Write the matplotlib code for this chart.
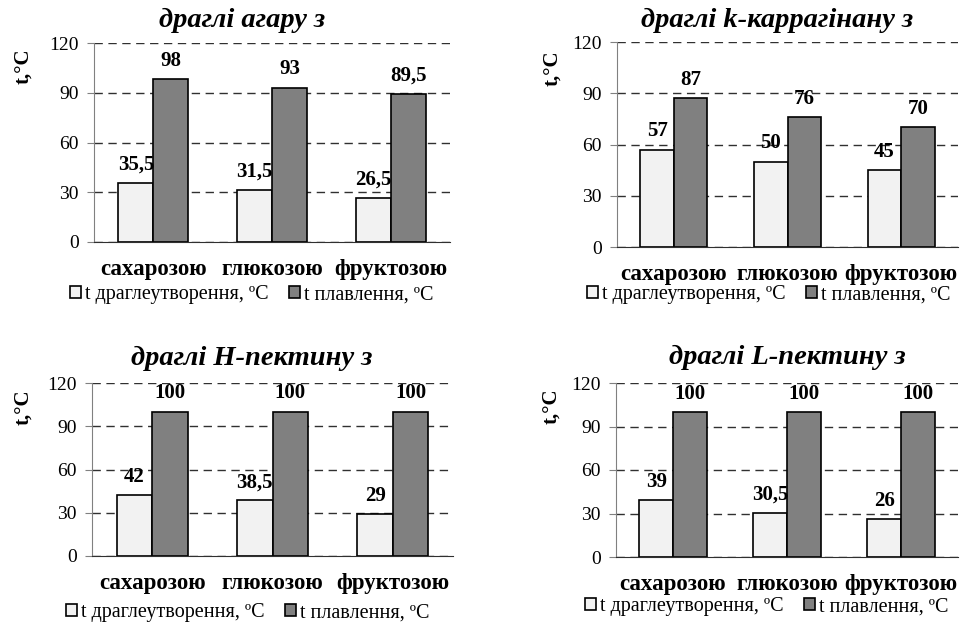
# gel formation / melting temperatures, four panels
import numpy as np
import matplotlib
matplotlib.use("Agg")
import matplotlib.pyplot as plt

plt.rcParams['font.family'] = ['Liberation Serif', 'DejaVu Serif']

W, H = 960, 626

sugars = ['сахарозою', 'глюкозою', 'фруктозою']
series_names = ['t драглеутворення, ºC', 't плавлення, ºC']

titles = ['драглі агару з', 'драглі k-каррагінану з',
          'драглі H-пектину з', 'драглі L-пектину з']

agar_gel = [35.5, 31.5, 26.5]
agar_melt = [98, 93, 89.5]
karr_gel = [57, 50, 45]
karr_melt = [87, 76, 70]
hpec_gel = [42, 38.5, 29]
hpec_melt = [100, 100, 100]
lpec_gel = [39, 30.5, 26]
lpec_melt = [100, 100, 100]

yticks = [0, 30, 60, 90, 120]

# pixel layout: (left, top, right, bottom), title (x, baseline), ylabel (x, y), legend (x, y)
panels = [
    ((94, 43, 450, 242), (242, 27), (23, 66), (252, 295), agar_gel, agar_melt),
    ((617, 42, 958, 247), (777, 27), (552, 68), (769, 295), karr_gel, karr_melt),
    ((92, 383, 453, 556), (252, 365), (23, 407), (248, 613), hpec_gel, hpec_melt),
    ((616, 383, 958, 557), (787, 364), (551, 406), (767, 607), lpec_gel, lpec_melt),
]

light = '#f2f2f2'
dark = '#808080'


def fmt(v):
    if float(v).is_integer():
        return str(int(v))
    return str(v).replace('.', ',')


fig = plt.figure(figsize=(W / 100, H / 100), dpi=100)

for i, (box, tpos, ypos, lpos, gel, melt) in enumerate(panels):
    l, t, r, b = box
    ax = fig.add_axes([l / W, 1 - b / H, (r - l) / W, (b - t) / H])
    x = np.arange(len(sugars))
    bw = 0.295
    b1 = ax.bar(x - bw / 2, gel, bw, color=light, edgecolor='black', linewidth=1.2,
                label=series_names[0], zorder=3)
    b2 = ax.bar(x + bw / 2, melt, bw, color=dark, edgecolor='black', linewidth=1.2,
                label=series_names[1], zorder=3)
    for bars, vals in ((b1, gel), (b2, melt)):
        for rect, v in zip(bars, vals):
            ax.annotate(fmt(v), (rect.get_x() + rect.get_width() / 2, v),
                        xytext=(0, 6), textcoords='offset points',
                        ha='center', va='bottom', fontsize=15, fontweight='bold')
    ax.set_xlim(-0.5, 2.5)
    ax.set_ylim(0, 120)
    ax.set_yticks(yticks)
    ax.set_xticks(x)
    ax.set_xticklabels(sugars, fontsize=16.5, fontweight='bold')
    ax.tick_params(axis='x', length=0, pad=12)
    ax.tick_params(axis='y', length=5, direction='out', color='#808080', labelsize=14, pad=6)
    ax.yaxis.grid(True, linestyle=(0, (6, 4)), color='#303030', linewidth=1, zorder=0)
    for s in ('top', 'right'):
        ax.spines[s].set_visible(False)
    ax.spines['left'].set_color('#808080')
    ax.spines['bottom'].set_color('#303030')
    ax.spines['bottom'].set_zorder(4)
    ax.set_facecolor('none')

    fig.text(tpos[0] / W, 1 - tpos[1] / H, titles[i], ha='center', va='baseline',
             fontsize=20.5, fontweight='bold', fontstyle='italic')
    fig.text(ypos[0] / W, 1 - ypos[1] / H, 't,°C', ha='center', va='center',
             rotation=90, fontsize=15, fontweight='bold')
    ax.legend(loc='center', bbox_to_anchor=(lpos[0] / W, 1 - lpos[1] / H),
              bbox_transform=fig.transFigure, ncol=2, frameon=False, fontsize=14.5,
              handlelength=0.55, handleheight=0.55, handletextpad=0.2,
              columnspacing=1.0, borderpad=0)

fig.savefig('out.png', dpi=100)
